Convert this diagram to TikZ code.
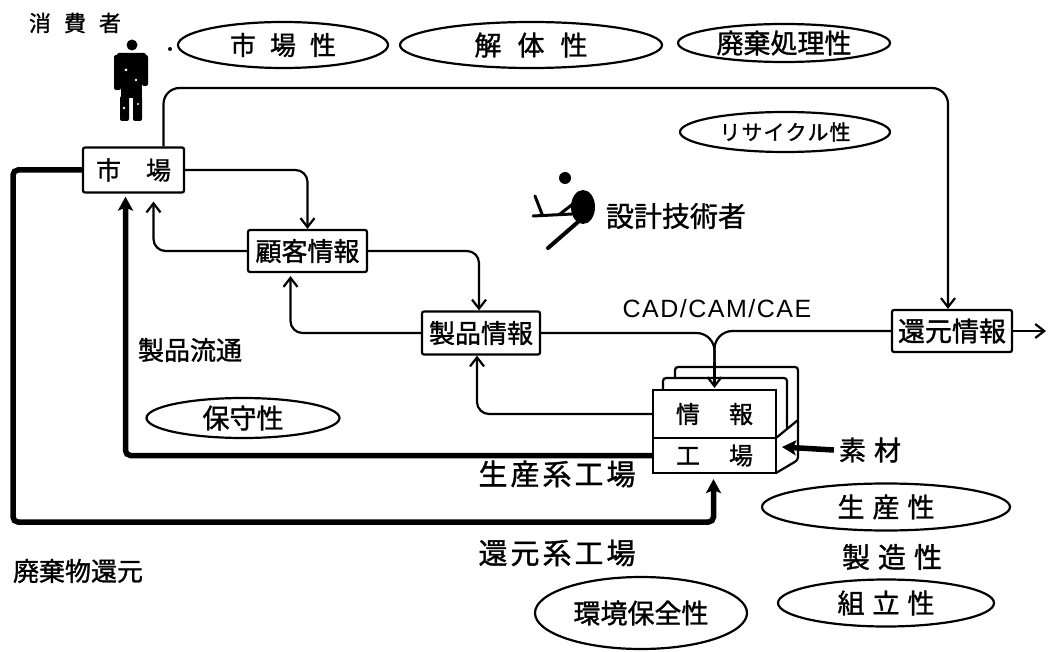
\documentclass[tikz,border=0pt]{standalone}
\usepackage{fontspec}
\newfontfamily\jp[FakeBold=1.2]{Noto Sans CJK JP}
\newfontfamily\cadfont[LetterSpace=6]{Liberation Sans}
\usetikzlibrary{arrows.meta,shapes.geometric,calc}
\newcommand\jg[1]{\hspace{#1pt}}

\begin{document}
\begin{tikzpicture}[x=1pt,y=-1pt,line width=2.2pt,
  txt/.style={font=\jp\fontsize{#1}{#1}\selectfont, inner sep=0pt},
  txt/.default=24,
  box/.style={draw, rectangle, rounded corners=2pt, inner sep=0pt, fill=white},
  oval/.style={draw, ellipse, inner sep=0pt},
  arr/.style={-{Straight Barb[length=9pt,width=14pt]}, rounded corners=12pt},
  tharr/.style={line width=5.5pt, -{Stealth[length=14pt,width=15pt,inset=3pt]}, rounded corners=5pt}]

\useasboundingbox (0,0) rectangle (1049,652);

% ---------- property ovals ----------
\node[oval, minimum width=210, minimum height=46, txt=26] (m1) at (283,45) {市\jg{14}場\jg{14}性};
\node[oval, minimum width=262, minimum height=46, txt=27] (m2) at (531,45) {解\jg{16}体\jg{16}性};
\node[oval, minimum width=212, minimum height=38, txt=27] (m3) at (784,43) {廃棄処理性};
\node[oval, minimum width=210, minimum height=40, txt=21] (m4) at (785,132) {リ\jg{1}サ\jg{1}イ\jg{1}ク\jg{1}ル\jg{1}性};
\node[oval, minimum width=193, minimum height=40, txt=27] (m5) at (243,418) {保守性};
\node[oval, minimum width=212, minimum height=72, txt=27] (m6) at (641,613) {環境保全性};
\node[oval, minimum width=248, minimum height=47, txt=27] (m7) at (886,507) {生\jg{8}産\jg{8}性};
\node[oval, minimum width=216, minimum height=47, txt=27] (m8) at (886,603) {組\jg{8}立\jg{8}性};

% ---------- free labels ----------
\node[txt=22] (cons) at (75,23) {消\jg{13}費\jg{13}者};
\node[txt=28] (eng) at (676,216) {設計技術者};
\node[inner sep=0pt, font=\cadfont\fontsize{25}{25}\selectfont] (cad) at (717,309) {CAD/CAM/CAE};
\node[txt=26] (dist) at (190,350) {製品流通};
\node[txt=29] (prodf) at (557,474) {生\jg{3}産\jg{3}系\jg{3}工\jg{3}場};
\node[txt=29] (recf) at (557,553) {還\jg{3}元\jg{3}系\jg{3}工\jg{3}場};
\node[txt=26] (waste) at (78,571) {廃棄物還元};
\node[txt=28] (mfg) at (892,557) {製\jg{8}造\jg{8}性};
\node[txt=27] (sozai) at (870,450) {素\jg{8}材};

% ---------- consumer figure ----------
\fill (170,49) circle (2);
\begin{scope}[line width=0pt]
  \fill (132,45) circle (5.5);
  \fill[rounded corners=2pt] (117,53) rectangle (146,60);
  \fill[rounded corners=2pt] (114,55) rectangle (121,90);
  \fill[rounded corners=2pt] (142,55) rectangle (148,86);
  \fill (121,55) rectangle (142,98);
  \fill[rounded corners=2pt] (120,96) rectangle (129,121);
  \fill[rounded corners=2pt] (133,96) rectangle (142,121);
  \fill[white] (126,70) circle (1.5) (136,80) circle (1.3) (124,108) circle (1.3) (138,104) circle (1.2);
\end{scope}

% ---------- designer figure ----------
\fill (565,178) circle (6);
\fill (583,207) ellipse (12 and 17);
\draw[line width=3pt, line cap=round] (535,196) -- (542,214);
\draw[line width=3pt, line cap=round] (533,216) -- (572,214);
\draw[line width=3pt, line cap=round] (560,214) -- (578,200);
\draw[line width=4pt, line cap=round] (578,222) -- (548,248);

% ---------- main boxes ----------
\node[box, minimum width=101, minimum height=45, txt=25] (ichiba) at (133.5,170) {市\jg{25}場};
\node[box, minimum width=119, minimum height=42, txt=26] (kokyaku) at (307.5,251) {顧客情報};
\node[box, minimum width=118, minimum height=43, txt=26] (seihin) at (481,333) {製品情報};
\node[box, minimum width=120, minimum height=42, txt=27] (kangen) at (952,331) {還元情報};

% ---------- stacked information / factory box ----------
\draw[rounded corners=3pt] (675,378) -- (675,367) -- (798,367) -- (798,460) -- (776,473);
\draw[rounded corners=3pt] (663,390) -- (663,378) -- (787,378) -- (787,429);
\draw (776,438) -- (798,420);
\node[draw, fill=white, rectangle, inner sep=0pt, minimum width=123, minimum height=48, txt=24] (jouhou) at (714.5,414) {情\jg{29}報};
\node[draw, fill=white, rectangle, inner sep=0pt, minimum width=123, minimum height=35, txt=24] (koujou) at (714.5,455.5) {工\jg{29}場};

% ---------- coordinates for free ends and bends ----------
\coordinate (topy) at (0,88);
\coordinate (mrgy) at (0,362);
\coordinate (outR) at (1046,331);
\coordinate (wl) at (13,522);
\coordinate (sideP) at (782,447);

% ---------- information flow ----------
\draw[arr, rounded corners=16pt] ([xshift=30pt]ichiba.north) |- ([xshift=-4pt]kangen.north |- topy) -- ([xshift=-4pt]kangen.north);
\draw[arr] (ichiba.east) -| (kokyaku.north);
\draw[arr, shorten >=8pt] (kokyaku.west) -| ([xshift=20pt]ichiba.south);
\draw[arr] (kokyaku.east) -| ([xshift=-2pt]seihin.north);
\draw[arr, shorten >=3pt] (seihin.west) -| ([xshift=-17pt]kokyaku.south);
\draw[arr] (jouhou.west) -| ([xshift=-4pt]seihin.south);
\draw[rounded corners=18pt] (seihin.east) -| (jouhou.north |- mrgy);
\draw[rounded corners=18pt] (kangen.west) -| (jouhou.north |- mrgy);
\draw[arr, shorten >=1pt] (jouhou.north |- mrgy) -- (jouhou.north);
\draw[arr] (kangen.east) -- (outR);

% ---------- material flow ----------
\draw[tharr, shorten >=3pt] (koujou.west) -| ([xshift=-8pt]ichiba.south);
\draw[tharr, shorten >=5pt] (ichiba.west) -| (wl) -| ([xshift=-1pt]koujou.south);
\draw[tharr] ([xshift=-4pt]sozai.west) -- (sideP);

\end{tikzpicture}
\end{document}
